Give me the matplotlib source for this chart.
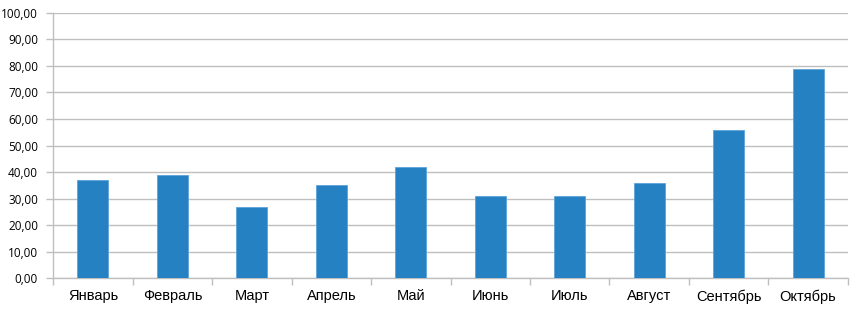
import matplotlib
matplotlib.use("Agg")
import matplotlib.pyplot as plt
from matplotlib.ticker import FuncFormatter, MultipleLocator

months = ["Январь", "Февраль", "Март", "Апрель", "Май", "Июнь", "Июль", "Август", "Сентябрь", "Октябрь"]
values = [37, 39, 27, 35, 42, 31, 31, 36, 56, 79]

fig = plt.figure(figsize=(8.59, 3.13), dpi=100)
ax = fig.add_axes([0.062, 0.111, 0.925, 0.848])

x = list(range(len(months)))
ax.bar(x, values, width=0.39, color="#2681C2", edgecolor="#5DA3D9", linewidth=0.6, zorder=3)

ax.set_xlim(-0.5, len(months) - 0.5)
ax.set_ylim(0, 100)
ax.yaxis.set_major_locator(MultipleLocator(10))
ax.yaxis.set_major_formatter(FuncFormatter(lambda v, p: f"{v:.2f}".replace(".", ",")))
ax.grid(axis="y", color="#BFBFBF", linewidth=1.0, zorder=0)

for s in ["top", "right"]:
    ax.spines[s].set_visible(False)
ax.spines["left"].set_color("#BFBFBF")
ax.spines["bottom"].set_color("#BFBFBF")
ax.spines["left"].set_linewidth(1.0)
ax.spines["bottom"].set_linewidth(1.0)

ax.set_xticks(x)
ax.set_xticklabels(months, fontfamily="Liberation Sans", fontsize=10.5, color="#000000")
ax.tick_params(axis="x", length=0, pad=8)
ax.set_xticks([i - 0.5 for i in range(len(months) + 1)], minor=True)
ax.tick_params(axis="x", which="minor", length=5, color="#BFBFBF", width=1)
ax.tick_params(axis="y", length=5, color="#BFBFBF", width=1, labelsize=8.5, pad=6, labelcolor="#000000")
for lbl in ax.get_yticklabels():
    lbl.set_fontfamily("Open Sans")

fig.savefig("out.png", dpi=100)
